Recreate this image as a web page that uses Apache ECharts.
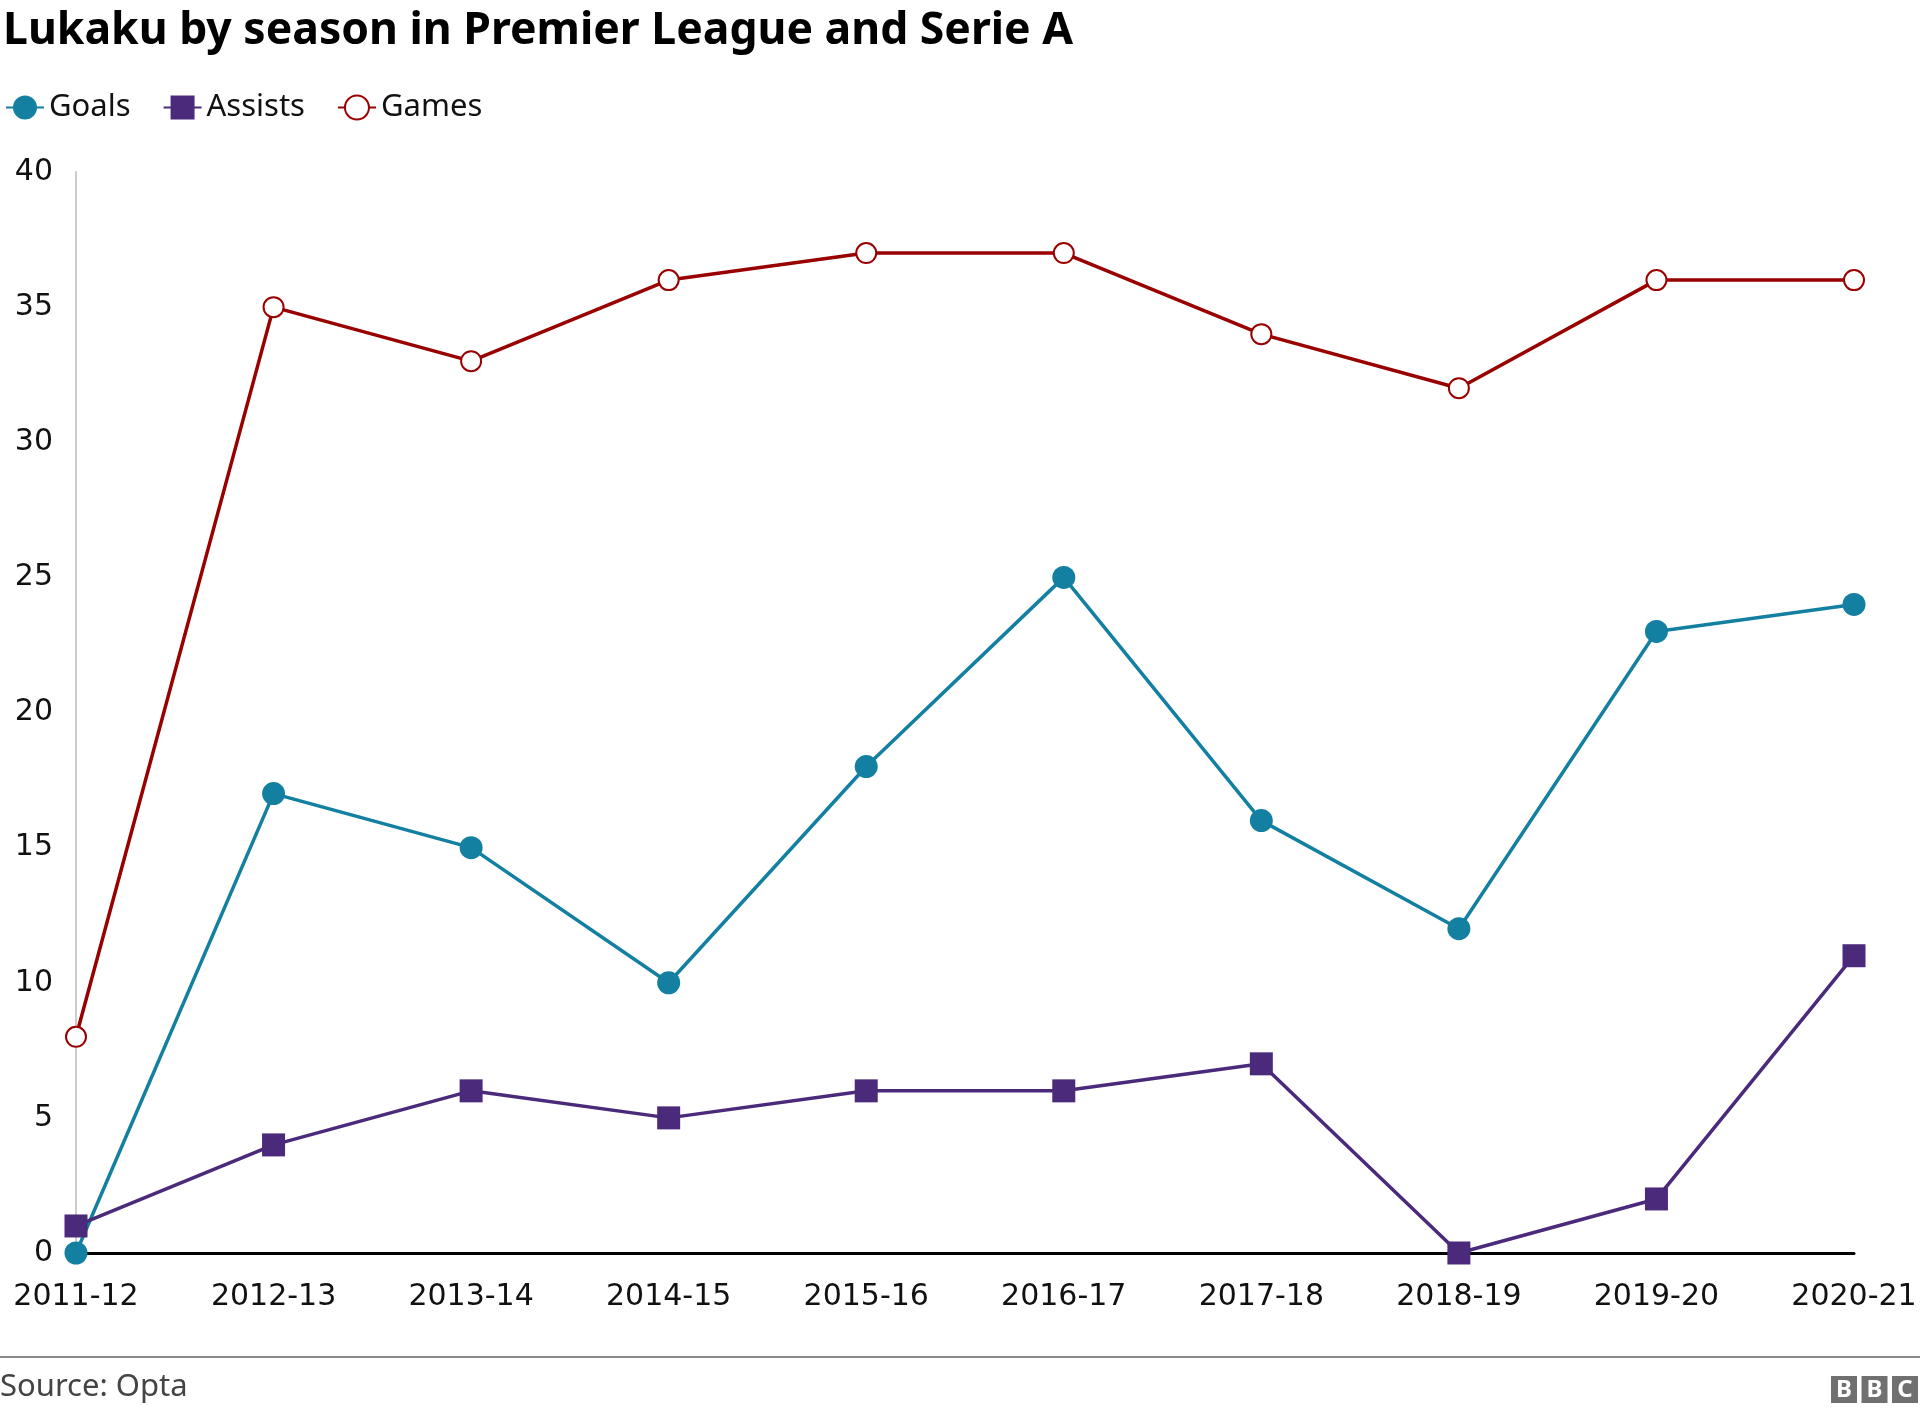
<!DOCTYPE html>
<html>
<head>
<meta charset="utf-8">
<script src="https://cdn.jsdelivr.net/npm/echarts@6/dist/echarts.min.js"></script>
<style>
html,body{margin:0;padding:0;background:#fff;}
#chart{width:1920px;height:1412px;}
</style>
</head>
<body>
<div id="chart"></div>
<script>
const seasons = ['2011-12','2012-13','2013-14','2014-15','2015-16','2016-17','2017-18','2018-19','2019-20','2020-21'];
const goals = [0, 17, 15, 10, 18, 25, 16, 12, 23, 24];
const assists = [1, 4, 6, 5, 6, 6, 7, 0, 2, 11];
const games = [8, 35, 33, 36, 37, 37, 34, 32, 36, 36];
const yTicks = {min: 0, max: 40, interval: 5};

const FONT = '"Noto Sans", "Open Sans", sans-serif';
const AXFONT = '"DejaVu Sans", "Noto Sans", sans-serif';
const chart = echarts.init(document.getElementById('chart'), null, {renderer: 'canvas'});

const bbcLetters = ['B','B','C'];
const bbcGraphics = [];
bbcLetters.forEach((l, i) => {
  bbcGraphics.push({
    type: 'group', left: 1831 + i * 30.5, top: 1376,
    children: [
      {type: 'rect', shape: {x: 0, y: 0, width: 26, height: 27}, style: {fill: '#707070'}},
      {type: 'text', style: {x: 13, y: 14, text: l, fill: '#fff', font: 'bold 24px ' + FONT, align: 'center', verticalAlign: 'middle'}}
    ]
  });
});

chart.setOption({
  animation: false,
  backgroundColor: '#fff',
  textStyle: {fontFamily: FONT},
  title: {
    text: 'Lukaku by season in Premier League and Serie A',
    left: -2, top: 4,
    textStyle: {fontFamily: FONT, fontWeight: 'bold', fontSize: 44.5, color: '#000'}
  },
  legend: {
    left: 0, top: 87,
    itemWidth: 38, itemHeight: 30, itemGap: 32,
    textStyle: {fontFamily: FONT, fontSize: 31, color: '#111'},
    data: ['Goals','Assists','Games']
  },
  grid: {left: 76, right: 66, top: 172, bottom: 159, containLabel: false},
  xAxis: {
    type: 'category', data: seasons, boundaryGap: false,
    axisLine: {show: true, lineStyle: {color: '#000', width: 3}},
    axisTick: {show: false},
    axisLabel: {fontFamily: AXFONT, fontSize: 30, color: '#111', margin: 29}
  },
  yAxis: {
    type: 'value', min: yTicks.min, max: yTicks.max, interval: yTicks.interval,
    axisLine: {show: true, lineStyle: {color: '#cccccc', width: 2}},
    axisTick: {show: false},
    splitLine: {show: false},
    axisLabel: {fontFamily: AXFONT, fontSize: 30, color: '#111', margin: 23}
  },
  series: [
    {
      name: 'Goals', type: 'line', data: goals,
      symbol: 'circle', symbolSize: 23,
      lineStyle: {color: '#1380A1', width: 3.5},
      itemStyle: {color: '#1380A1'}, z: 3
    },
    {
      name: 'Assists', type: 'line', data: assists,
      symbol: 'rect', symbolSize: 23,
      lineStyle: {color: '#4b2a7b', width: 3.5},
      itemStyle: {color: '#4b2a7b'}, z: 4
    },
    {
      name: 'Games', type: 'line', data: games,
      symbol: 'emptyCircle', symbolSize: 20,
      lineStyle: {color: '#990000', width: 3.5},
      itemStyle: {color: '#990000', borderColor: '#990000', borderWidth: 3.5}, z: 2
    }
  ],
  graphic: [
    {type: 'rect', left: 0, top: 1356, shape: {x: 0, y: 0, width: 1920, height: 2}, style: {fill: '#8a8a8a'}},
    {type: 'text', left: 0, top: 1372, style: {text: 'Source: Opta', font: '31px ' + FONT, fill: '#444'}}
  ].concat(bbcGraphics)
});
</script>
</body>
</html>
